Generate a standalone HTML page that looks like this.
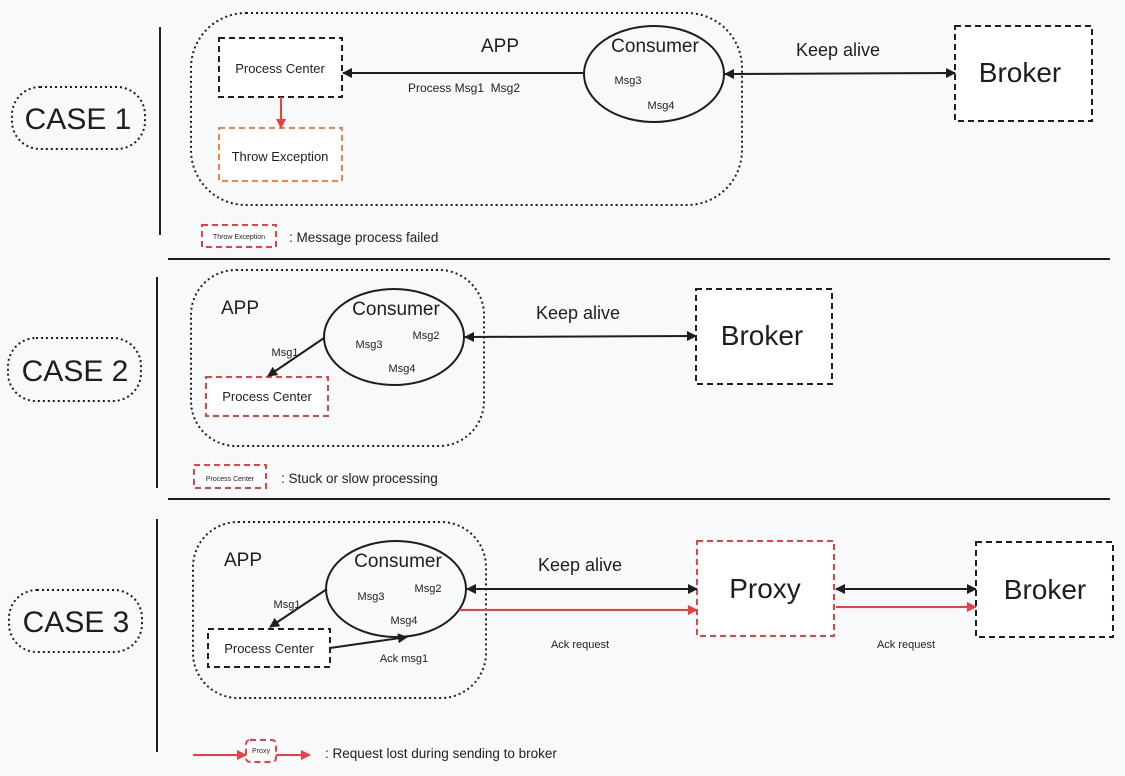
<!DOCTYPE html><html><head><style>body{margin:0;background:#f8f9fa}svg{display:block}text{font-family:"Liberation Sans",sans-serif;fill:#1e1e1e}</style></head><body>
<svg width="1125" height="776" viewBox="0 0 1125 776" xmlns="http://www.w3.org/2000/svg">
<defs>
<marker id="a" markerWidth="10" markerHeight="10" refX="9" refY="5" orient="auto-start-reverse" markerUnits="userSpaceOnUse"><path d="M0,0 L10,5 L0,10 z" fill="#1e1e1e"/></marker>
<marker id="r" markerWidth="10" markerHeight="10" refX="9" refY="5" orient="auto" markerUnits="userSpaceOnUse"><path d="M0,0 L10,5 L0,10 z" fill="#f03e3e"/></marker>
</defs>
<rect width="1125" height="776" fill="#f8f9fa"/>
<g fill="none" stroke="#1e1e1e" stroke-width="2" stroke-dasharray="2,3">
<rect x="12" y="87" width="133" height="62" rx="28"/>
<rect x="8" y="338" width="133" height="63" rx="28"/>
<rect x="9" y="590" width="133" height="62" rx="28"/>
<rect x="191" y="13" width="551" height="192" rx="55"/>
<rect x="191" y="270" width="293" height="176" rx="45"/>
<rect x="193" y="522" width="293" height="176" rx="45"/>
</g>
<g font-size="30" text-anchor="middle"><text x="78" y="129">CASE 1</text><text x="75" y="381">CASE 2</text><text x="76" y="632">CASE 3</text></g>
<g stroke="#1e1e1e" stroke-width="2"><line x1="160" y1="27" x2="160" y2="235"/><line x1="157" y1="277" x2="157" y2="488"/><line x1="157" y1="519" x2="157" y2="752"/><line x1="168" y1="259" x2="1110" y2="259"/><line x1="168" y1="499" x2="1110" y2="499"/></g>
<g stroke-width="2" stroke-dasharray="6,4" fill="#fff">
<rect x="219" y="38" width="123" height="59" stroke="#1e1e1e"/>
<rect x="219" y="128" width="123" height="53" stroke="#fd7e43"/>
<rect x="955" y="26" width="137" height="95" stroke="#1e1e1e"/>
<rect x="206" y="377" width="122" height="39" stroke="#f03e3e"/>
<rect x="696" y="289" width="136" height="95" stroke="#1e1e1e"/>
<rect x="208" y="629" width="122" height="38" stroke="#1e1e1e"/>
<rect x="697" y="541" width="137" height="95" stroke="#f03e3e"/>
<rect x="976" y="542" width="137" height="95" stroke="#1e1e1e"/>
<rect x="202" y="225" width="74" height="22" stroke="#f03e3e"/>
<rect x="194" y="465" width="72" height="23" stroke="#f03e3e"/>
<rect x="246" y="740" width="30" height="22" rx="4" stroke="#f03e3e"/>
</g>
<g fill="none" stroke="#1e1e1e" stroke-width="2">
<ellipse cx="654" cy="74" rx="70" ry="48"/><ellipse cx="394" cy="337" rx="70" ry="48"/><ellipse cx="396" cy="589" rx="70" ry="48"/>
<line x1="584" y1="73" x2="343" y2="73" marker-end="url(#a)"/>
<line x1="725" y1="74" x2="955" y2="73" marker-start="url(#a)" marker-end="url(#a)"/>
<line x1="324" y1="338" x2="268" y2="376" marker-end="url(#a)"/>
<line x1="465" y1="337" x2="696" y2="336" marker-start="url(#a)" marker-end="url(#a)"/>
<line x1="327" y1="589" x2="270" y2="627" marker-end="url(#a)"/>
<line x1="330" y1="648" x2="407" y2="637" marker-end="url(#a)"/>
<line x1="467" y1="589" x2="697" y2="589" marker-start="url(#a)" marker-end="url(#a)"/>
<line x1="836" y1="589" x2="976" y2="589" marker-start="url(#a)" marker-end="url(#a)"/>
</g>
<g stroke="#f03e3e" stroke-width="2" fill="none">
<line x1="281" y1="97" x2="281" y2="128" marker-end="url(#r)"/>
<line x1="459" y1="610" x2="697" y2="610" marker-end="url(#r)"/>
<line x1="836" y1="607" x2="976" y2="607" marker-end="url(#r)"/>
<line x1="193" y1="755" x2="246" y2="755" marker-end="url(#r)"/>
<line x1="276" y1="755" x2="310" y2="755" marker-end="url(#r)"/>
</g>
<g text-anchor="middle">
<text x="500" y="52" font-size="19">APP</text>
<text x="655" y="52" font-size="19">Consumer</text>
<text x="280" y="73" font-size="13">Process Center</text>
<text x="280" y="161" font-size="13">Throw Exception</text>
<text x="628" y="84" font-size="11">Msg3</text><text x="661" y="109" font-size="11">Msg4</text>
<text x="464" y="92" font-size="12">Process Msg1&#160;&#160;Msg2</text>
<text x="838" y="56" font-size="18">Keep alive</text>
<text x="1020" y="82" font-size="28">Broker</text>
<text x="239" y="239" font-size="7">Throw Exception</text>
<text x="240" y="314" font-size="19">APP</text>
<text x="396" y="315" font-size="19">Consumer</text>
<text x="369" y="348" font-size="11">Msg3</text><text x="426" y="339" font-size="11">Msg2</text><text x="402" y="372" font-size="11">Msg4</text><text x="285" y="356" font-size="11">Msg1</text>
<text x="267" y="401" font-size="13">Process Center</text>
<text x="578" y="319" font-size="18">Keep alive</text>
<text x="762" y="345" font-size="28">Broker</text>
<text x="230" y="481" font-size="7">Process Center</text>
<text x="243" y="566" font-size="19">APP</text>
<text x="398" y="567" font-size="19">Consumer</text>
<text x="371" y="600" font-size="11">Msg3</text><text x="428" y="592" font-size="11">Msg2</text><text x="404" y="624" font-size="11">Msg4</text><text x="287" y="608" font-size="11">Msg1</text>
<text x="269" y="653" font-size="13">Process Center</text>
<text x="404" y="662" font-size="11">Ack msg1</text>
<text x="580" y="571" font-size="18">Keep alive</text>
<text x="580" y="648" font-size="11">Ack request</text>
<text x="906" y="648" font-size="11">Ack request</text>
<text x="765" y="598" font-size="28">Proxy</text>
<text x="1045" y="599" font-size="28">Broker</text>
<text x="261" y="753" font-size="7">Proxy</text>
</g>
<text x="289" y="242" font-size="13.5">: Message process failed</text>
<text x="281" y="483" font-size="13.5">: Stuck or slow processing</text>
<text x="325" y="758" font-size="13.5">: Request lost during sending to broker</text>
</svg></body></html>
